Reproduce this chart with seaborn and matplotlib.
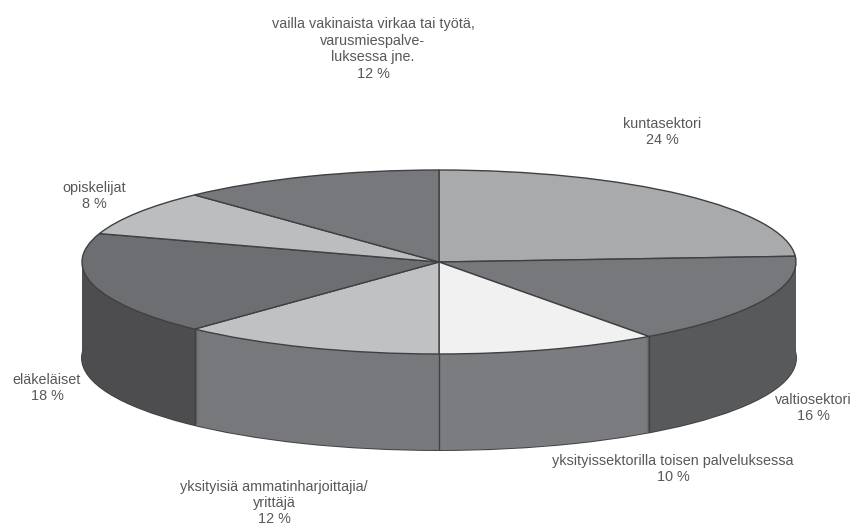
import numpy as np
import matplotlib
matplotlib.use("Agg")
import matplotlib.pyplot as plt
import seaborn as sns

sns.set_theme(style="white")
plt.rcParams["font.family"] = ["Liberation Sans", "DejaVu Sans"]

# share of respondents, clockwise from 12 o'clock
labels = [
    "kuntasektori\n24 %",
    "valtiosektori\n16 %",
    "yksityissektorilla toisen palveluksessa\n10 %",
    "yksityisiä ammatinharjoittajia/\nyrittäjä\n12 %",
    "eläkeläiset\n18 %",
    "opiskelijat\n8 %",
    "vailla vakinaista virkaa tai työtä,\nvarusmiespalve-\nluksessa jne.\n12 %",
]
values = [24, 16, 10, 12, 18, 8, 12]
top_colors = ["#a9aaac", "#77787b", "#f1f1f2", "#c0c1c3", "#6d6e71", "#bcbdbf", "#77787b"]
side_colors = ["#77787b", "#58595b", "#7b7c7f", "#77787b", "#4d4d4f", "#77787b", "#77787b"]

# label centres in pixels (x, y of the block centre)
label_pos = [(662, 132), (813, 408), (673, 469), (274, 503), (47, 388), (94, 196), (373, 49)]

W, H = 856, 527
CX, CY, RX, RY = 439, 262, 357, 92
DEPTH_PX = 96
EDGE = "#3f4042"

fig = plt.figure(figsize=(W / 100, H / 100), dpi=100)
ax = fig.add_axes([0, 0, 1, 1])

# bottom rim first, the wall layers then hide its back half
ax.pie([1], colors=["none"], center=(0, -DEPTH_PX / RY),
       wedgeprops={"linewidth": 1.4, "edgecolor": EDGE})

# wall: the same pie stacked downwards, 1 px a layer
for px in range(DEPTH_PX, 0, -1):
    ax.pie(values, colors=side_colors, startangle=90, counterclock=False,
           center=(0, -px / RY), wedgeprops={"linewidth": 0})

# wall seams where a slice boundary faces the viewer
angles = np.pi / 2 - 2 * np.pi * np.cumsum(values) / sum(values)
for a in angles:
    if np.sin(a) < 0:
        ax.plot([np.cos(a)] * 2, [np.sin(a), np.sin(a) - DEPTH_PX / RY],
                color=EDGE, lw=1.0, solid_capstyle="butt")

ax.pie(values, colors=top_colors, startangle=90, counterclock=False,
       wedgeprops={"linewidth": 1.0, "edgecolor": EDGE})

ax.set_aspect("auto")
ax.set_xlim(-CX / RX, (W - CX) / RX)
ax.set_ylim((CY - H) / RY, CY / RY)

for text, (x, y) in zip(labels, label_pos):
    fig.text(x / W, 1 - y / H, text, ha="center", va="center", fontsize=10.4,
             color="#58585a", linespacing=1.22)

fig.savefig("out.png", dpi=100)
